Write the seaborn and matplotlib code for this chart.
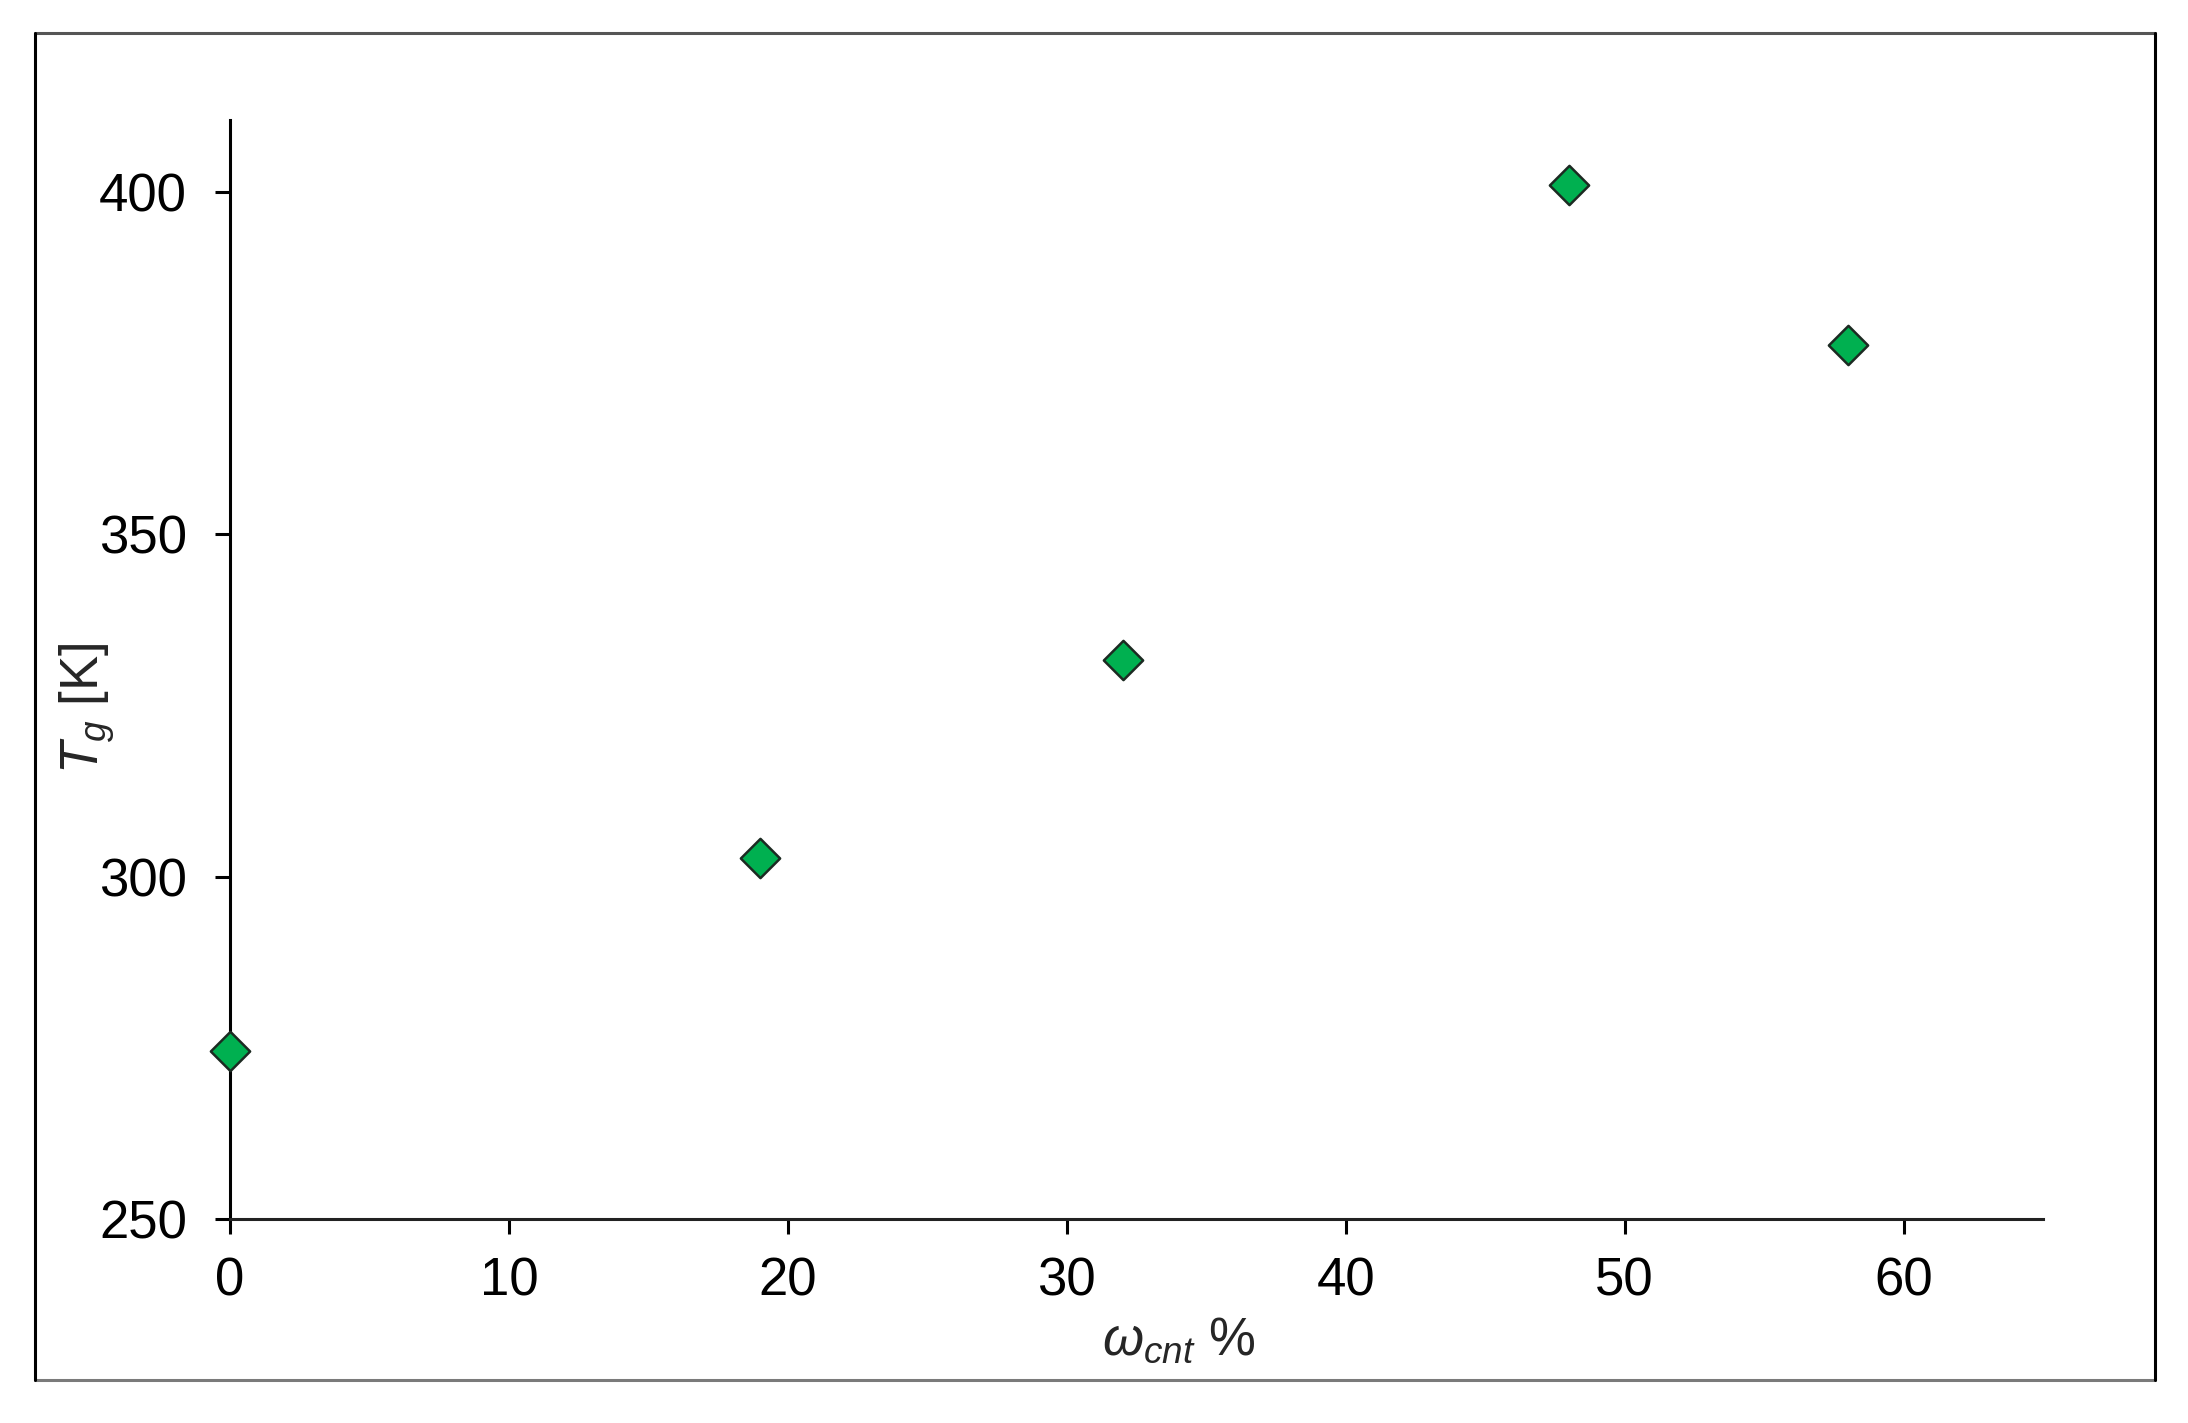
import numpy as np
import pandas as pd
import matplotlib
matplotlib.use("Agg")
import matplotlib.pyplot as plt
from matplotlib.lines import Line2D
import seaborn as sns

# データ
w_cnt = [0, 19, 32, 48, 58]
t_g = [274.5, 302.7, 331.6, 401.0, 377.7]
x_ticks = [0, 10, 20, 30, 40, 50, 60]
y_ticks = [250, 300, 350, 400]

df = pd.DataFrame({"w_cnt": w_cnt, "t_g": t_g})

sns.set_style("ticks")
plt.rcParams["font.family"] = ["Liberation Sans", "DejaVu Sans"]
plt.rcParams["mathtext.fontset"] = "custom"
plt.rcParams["mathtext.rm"] = "Liberation Sans"
plt.rcParams["mathtext.it"] = "Liberation Sans:italic"

W, H = 2188, 1423
dpi = 200
fig = plt.figure(figsize=(W / dpi, H / dpi), dpi=dpi)
fig.patch.set_facecolor("white")

# 軸の位置（ピクセル → 図の比率）
left, right = 230 / W, 2043 / W
bottom, top = 1 - 1219 / H, 1 - 120 / H
ax = fig.add_axes([left, bottom, right - left, top - bottom])

sns.scatterplot(data=df, x="w_cnt", y="t_g", marker="D", s=100,
                color="#00B050", edgecolor="#1c2a22", linewidth=0.9,
                ax=ax, legend=False, zorder=3, clip_on=False)

ax.set_xlim(0, 65)
ax.set_ylim(250, 410.5)
ax.set_xticks(x_ticks)
ax.set_yticks(y_ticks)

for side in ["top", "right"]:
    ax.spines[side].set_visible(False)
ax.spines["left"].set_color("black")
ax.spines["bottom"].set_color("#222222")
ax.spines["left"].set_linewidth(1.1)
ax.spines["bottom"].set_linewidth(1.1)
ax.tick_params(axis="both", direction="out", length=5.5, width=1.1,
               color="black", labelsize=19, labelcolor="black")
ax.tick_params(axis="y", pad=10)
ax.tick_params(axis="x", pad=8)

ax.set_xlabel(r"$\omega_{cnt}$ %", fontsize=19)
ax.set_ylabel(r"$T_g$ [K]", fontsize=19)
# ラベル位置（x: 上端, y: 右端 を指定）
ax.xaxis.set_label_coords((1179 / W - left) / (right - left), (1 - 1316 / H - bottom) / (top - bottom))
ax.yaxis.set_label_coords((117 / W - left) / (right - left), (1 - 708 / H - bottom) / (top - bottom))

# 外枠
def px_line(x0, y0, x1, y1, color):
    fig.add_artist(Line2D([x0 / W, x1 / W], [1 - y0 / H, 1 - y1 / H],
                          color=color, linewidth=1.1, transform=fig.transFigure))

px_line(35, 33, 2155, 33, "#555555")
px_line(35, 1380, 2155, 1380, "#7a7a7a")
px_line(35, 33, 35, 1380, "black")
px_line(2155, 33, 2155, 1380, "black")

fig.savefig("out.png", dpi=dpi, facecolor="white")
